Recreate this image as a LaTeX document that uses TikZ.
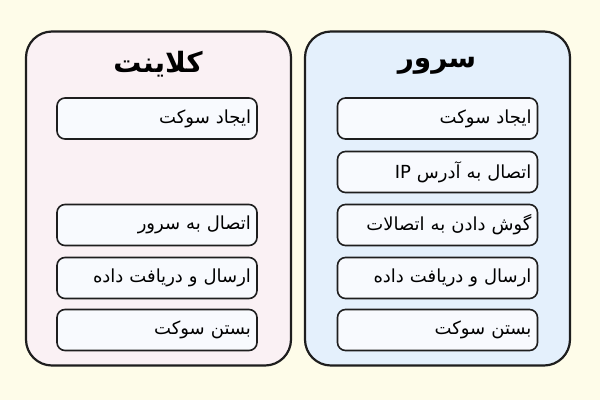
\documentclass[tikz,border=0pt]{standalone}
\usepackage{fontspec}
\newfontfamily\arabicfont[Script=Arabic]{DejaVu Sans}
\TeXXeTstate=1
\usetikzlibrary{positioning}
\definecolor{bgcream}{HTML}{FEFCE9}
\definecolor{clientfill}{HTML}{FAF1F4}
\definecolor{serverfill}{HTML}{E4F0FC}
\definecolor{stepfill}{HTML}{F8FAFE}
\definecolor{edge}{HTML}{1E1E1E}
\tikzset{
  panel/.style={draw=edge,line width=2.2pt,rounded corners=26pt,minimum width=265pt,minimum height=334pt,inner sep=0pt},
  stepbox/.style={draw=edge,fill=stepfill,line width=1.6pt,rounded corners=8pt,minimum width=200pt,minimum height=41pt,text width=188pt,align=right,font=\arabicfont\fontsize{18}{20}\selectfont},
  paneltitle/.style={font=\arabicfont\bfseries\fontsize{28}{30}\selectfont}
}
\newcommand{\rtl}[1]{\beginR #1\endR}
\begin{document}
\begin{tikzpicture}[x=1pt,y=-1pt]
   \fill[bgcream] (0,0) rectangle (600,400);
   \useasboundingbox (0,0) rectangle (600,400);
   % client side
   \node[panel,fill=clientfill] (client) at (158.5,198.5) {};
   \node[paneltitle] (clienttitle) at (158,64) {\rtl{کلاینت}};
   \node[stepbox] (c1) at (157,118.5) {\rtl{ایجاد سوکت}};
   \node[stepbox] (c2) at (157,225) {\rtl{اتصال به سرور}};
   \node[stepbox] (c3) at (157,278) {\rtl{ارسال و دریافت داده}};
   \node[stepbox] (c4) at (157,330) {\rtl{بستن سوکت}};
   % server side
   \node[panel,fill=serverfill] (server) at (437.5,198.5) {};
   \node[paneltitle] (servertitle) at (437,66) {\rtl{سرور}};
   \node[stepbox] (s1) at (437.5,118.5) {\rtl{ایجاد سوکت}};
   \node[stepbox] (s2) at (437.5,172) {\rtl{اتصال به آدرس \beginL IP\endL{}}};
   \node[stepbox] (s3) at (437.5,225) {\rtl{گوش دادن به اتصالات}};
   \node[stepbox] (s4) at (437.5,278) {\rtl{ارسال و دریافت داده}};
   \node[stepbox] (s5) at (437.5,330) {\rtl{بستن سوکت}};
\end{tikzpicture}
\end{document}
